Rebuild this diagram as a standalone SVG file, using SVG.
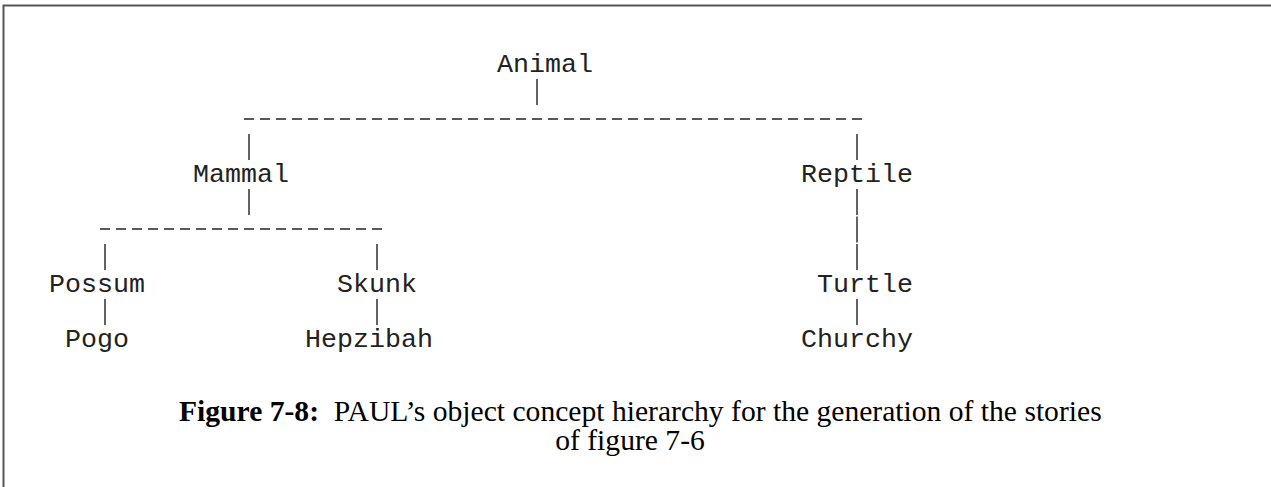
<svg xmlns="http://www.w3.org/2000/svg" width="1271" height="487" viewBox="0 0 1271 487">
<style>
.n{font-family:"Liberation Mono","Courier New",monospace;font-size:26.67px;fill:#222}
.c line{stroke:#222;stroke-width:1.4}
.d{stroke-dasharray:10 6}
.cap{font-family:"Liberation Serif","Times New Roman",serif;font-size:29.6px;fill:#000}
.b{font-weight:bold}
</style>
<rect width="1271" height="487" fill="#fff"/>
<path d="M3.5,487 V5.5 H1271" fill="none" stroke="#555" stroke-width="2"/>
<g class="c" id="connectors">
<line x1="537" y1="79" x2="537" y2="105"/>
<line class="d" x1="244" y1="119" x2="862" y2="119"/>
<line x1="249" y1="134" x2="249" y2="160"/>
<line x1="857" y1="134" x2="857" y2="160"/>
<line x1="249" y1="189" x2="249" y2="215"/>
<line class="d" x1="100" y1="229" x2="382" y2="229"/>
<line x1="105" y1="244" x2="105" y2="270"/>
<line x1="377" y1="244" x2="377" y2="270"/>
<line x1="857" y1="189" x2="857" y2="215"/>
<line x1="857" y1="216.5" x2="857" y2="242.5"/>
<line x1="857" y1="244" x2="857" y2="270"/>
<line x1="105" y1="299" x2="105" y2="325"/>
<line x1="377" y1="299" x2="377" y2="325"/>
<line x1="857" y1="299" x2="857" y2="325"/>
</g>
<g id="animal"><text class="n" x="497" y="72">Animal</text></g>
<g id="mammal"><text class="n" x="193" y="182">Mammal</text></g>
<g id="reptile"><text class="n" x="801" y="182">Reptile</text></g>
<g id="possum"><text class="n" x="49" y="292">Possum</text></g>
<g id="skunk"><text class="n" x="337" y="292">Skunk</text></g>
<g id="turtle"><text class="n" x="817" y="292">Turtle</text></g>
<g id="pogo"><text class="n" x="65" y="347">Pogo</text></g>
<g id="hepzibah"><text class="n" x="305" y="347">Hepzibah</text></g>
<g id="churchy"><text class="n" x="801" y="347">Churchy</text></g>
<g id="caption">
<text class="cap" x="179" y="421" xml:space="preserve"><tspan class="b">Figure 7-8:</tspan>  PAUL’s object concept hierarchy for the generation of the stories</text>
<text class="cap" x="630" y="450" text-anchor="middle">of figure 7-6</text>
</g>
</svg>
